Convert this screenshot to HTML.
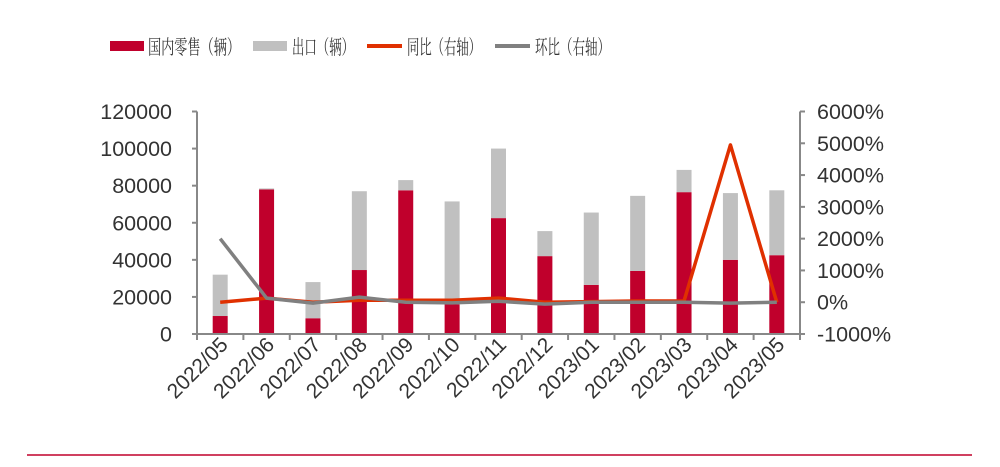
<!DOCTYPE html>
<html><head><meta charset="utf-8"><style>
body{margin:0;background:#fff;}
svg{display:block;font-family:"Liberation Sans","Noto Sans CJK SC",sans-serif;}
</style></head><body>
<svg id="chart" width="1000" height="467" xmlns="http://www.w3.org/2000/svg">
<g font-family="'Liberation Serif','Noto Serif CJK SC',serif" font-size="20" fill="#333">
<rect x="110" y="41" width="34" height="10" fill="#c0002c"/>
<text x="148" y="54" textLength="92" lengthAdjust="spacingAndGlyphs">国内零售（辆）</text>
<rect x="253" y="41" width="34" height="10" fill="#c0c0c0"/>
<text x="292" y="54" textLength="62" lengthAdjust="spacingAndGlyphs">出口（辆）</text>
<line x1="367" y1="46" x2="402" y2="46" stroke="#e03000" stroke-width="4"/>
<text x="407" y="54" textLength="74" lengthAdjust="spacingAndGlyphs">同比（右轴）</text>
<line x1="495" y1="46" x2="530" y2="46" stroke="#808080" stroke-width="4"/>
<text x="535" y="54" textLength="75" lengthAdjust="spacingAndGlyphs">环比（右轴）</text>
</g>
<g id="plot"></g>
<line x1="27" y1="455" x2="972" y2="455" stroke="#c0002c" stroke-width="1.5"/>
</svg>
<script>
const categories=["2022/05","2022/06","2022/07","2022/08","2022/09","2022/10","2022/11","2022/12","2023/01","2023/02","2023/03","2023/04","2023/05"];
const domestic=[9700,78000,8500,34500,77500,16000,62500,42000,26500,34000,76500,40000,42500];
const exportVol=[22300,500,19500,42500,5500,55500,37500,13500,39000,40500,12000,36000,35000];
const yoy=[0,130,0,60,60,60,130,0,20,40,40,4950,0];
const mom=[2000,130,-30,160,0,-20,30,-60,0,0,0,-30,0];
const leftTicks=[0,20000,40000,60000,80000,100000,120000];
const rightTicks=[-1000,0,1000,2000,3000,4000,5000,6000];

const svg=document.getElementById('plot');
const NS="http://www.w3.org/2000/svg";
const X0=197,X1=800,Y0=334,Y1=111.5;
const bw=(X1-X0)/categories.length;
const xC=i=>X0+bw*(i+0.5);
const yL=v=>Y0-(v/120000)*(Y0-Y1);
const yR=v=>Y0-((v+1000)/7000)*(Y0-Y1);
function mk(tag,attrs,parent){const e=document.createElementNS(NS,tag);for(const k in attrs)e.setAttribute(k,attrs[k]);(parent||svg).appendChild(e);return e;}

categories.forEach((c,i)=>{
  const x=xC(i)-7.5;
  const r1=mk('rect',{x:x,y:yL(domestic[i]),width:15,height:Y0-yL(domestic[i]),fill:'#c0002c'});
  
  
  const top=domestic[i]+exportVol[i];
  const r2=mk('rect',{x:x,y:yL(top),width:15,height:yL(domestic[i])-yL(top),fill:'#c0c0c0'});
  
  
});
const ax='#888';
let a=mk('line',{x1:X0,y1:Y1,x2:X0,y2:Y0,stroke:ax,'stroke-width':2});


a=mk('line',{x1:X1,y1:Y1,x2:X1,y2:Y0,stroke:ax,'stroke-width':2});


a=mk('line',{x1:X0,y1:Y0,x2:X1,y2:Y0,stroke:ax,'stroke-width':2});


leftTicks.forEach(v=>{
  mk('line',{x1:X0-5,y1:yL(v),x2:X0,y2:yL(v),stroke:ax,'stroke-width':2});
  const t=mk('text',{x:172,y:yL(v)+7.5,'text-anchor':'end','font-size':21.5,fill:'#333'});
  t.textContent=v;
  
  
});
rightTicks.forEach(v=>{
  mk('line',{x1:X1,y1:yR(v),x2:X1+5,y2:yR(v),stroke:ax,'stroke-width':2});
  const t=mk('text',{x:817,y:yR(v)+7.5,'font-size':21.5,fill:'#333'});
  t.textContent=v+'%';
  
  
});
for(let i=0;i<=categories.length;i++){mk('line',{x1:X0+bw*i,y1:Y0,x2:X0+bw*i,y2:Y0+6,stroke:ax,'stroke-width':2});}
categories.forEach((c,i)=>{
  const x=xC(i)+9,y=346;
  const t=mk('text',{x:x,y:y,'text-anchor':'end','font-size':21,fill:'#333',transform:`rotate(-45 ${x} ${y})`});
  t.textContent=c;
  
  
});
let l=mk('polyline',{points:yoy.map((v,i)=>xC(i)+','+yR(v)).join(' '),fill:'none',stroke:'#e03000','stroke-width':3.5,'stroke-linejoin':'round'});


l=mk('polyline',{points:mom.map((v,i)=>xC(i)+','+yR(v)).join(' '),fill:'none',stroke:'#808080','stroke-width':3.5,'stroke-linejoin':'round'});


</script>
</body></html>
